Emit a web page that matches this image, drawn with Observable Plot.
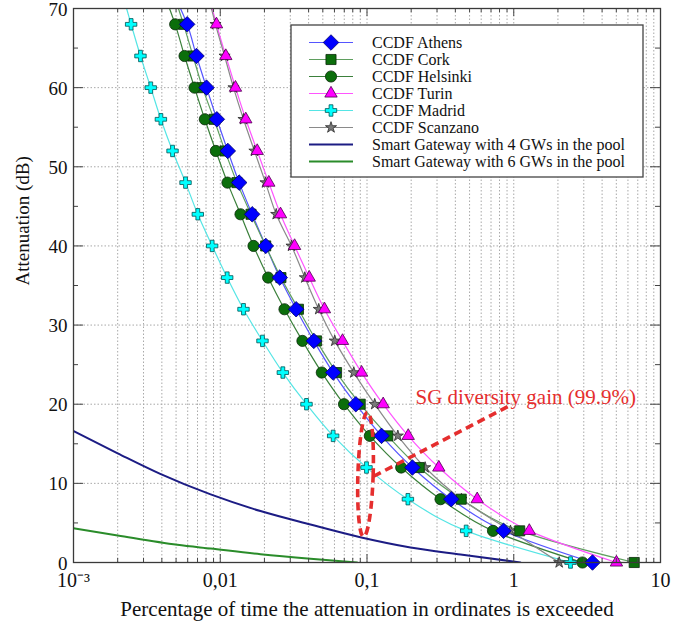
<!DOCTYPE html>
<html><head><meta charset="utf-8">
<script src="https://cdn.jsdelivr.net/npm/d3@7"></script>
<script src="https://cdn.jsdelivr.net/npm/@observablehq/plot@0.6"></script>
<style>body{margin:0;background:#fff} #chart{width:685px;height:622px}</style>
</head><body><div id="chart"></div>
<script>
// ---- data (percentage of time exceeded, per attenuation level in dB) ----
const levels = [0,4,8,12,16,20,24,28,32,36,40,44,48,52,56,60,64,68];
const topLevel = 70;
const athens   = [3.44,0.852,0.375,0.204,0.1256,0.0839,0.0588,0.0434,0.0329,0.02545,0.02044,0.0165,0.01346,0.01126,0.00948,0.00806,0.00689,0.00595];
const cork     = [6.62,1.098,0.4385,0.2268,0.1386,0.0899,0.062,0.0453,0.0341,0.0259,0.0204,0.0162,0.0130,0.01078,0.00907,0.00757,0.00652,0.00562];
const helsinki = [2.94,0.722,0.317,0.171,0.1045,0.0697,0.0492,0.0363,0.0274,0.0212,0.01685,0.01374,0.0112,0.00933,0.00785,0.00668,0.00571,0.00493];
const turin    = [5.01,1.276,0.5635,0.3085,0.1909,0.1289,0.0918,0.0681,0.0513,0.0404,0.0321,0.02574,0.02142,0.01786,0.01493,0.0127,0.01091,0.00943];
const madrid   = [2.436,0.474,0.190,0.0992,0.0588,0.0387,0.0267,0.0194,0.0144,0.01115,0.00881,0.00703,0.0058,0.00473,0.00394,0.00336,0.00286,0.00247];
const scanzano = [2.04,0.95,0.44,0.249,0.1622,0.1129,0.0813,0.0603,0.0469,0.0377,0.0306,0.02406,0.02034,0.0171,0.0144,0.01231,0.0107,0.00928];
// where each curve leaves the top of the frame (70 dB)
const topX = {Athens:0.00536, Cork:0.00519, Helsinki:0.00451, Turin:0.00881, Madrid:0.0023, Scanzano:0.0087};

const sg4X = [0.001,0.002,0.0039,0.0086,0.0188,0.0412,0.09,0.198,0.434,1.11];
const sg4Y = [16.6,13.8,11.2,8.6,6.5,4.8,3.2,1.9,1.0,0];
const sg6X = [0.001,0.002,0.0051,0.0086,0.0188,0.0412,0.0857];
const sg6Y = [4.34,3.42,2.24,1.76,1.05,0.47,0];

const xMajor = [0.001,0.01,0.1,1,10];
const xLabels = ["10\u207B\u00B3","0,01","0,1","1","10"];
const yMajor = [0,10,20,30,40,50,60,70];
const yMinor = [5,15,25,35,45,55,65];
const yGrid = [10,20,30,40,50,60];

// annotation (data coordinates)
const ellipseC = {x:0.0985, y:11.05, halfDecades:0.052, halfDb:7.85};
const arrow = {x1:0.111, y1:10.9, x2:0.98, y2:20.0};
const noteText = "SG diversity gain (99.9%)";
const noteAt = {x:0.214, y:20.9};

// ---- styles ----
const series = [
  {name:"Athens",   label:"CCDF Athens",   v:athens,   line:"#5555ff", fill:"#0000ff", stroke:"#00006a", symbol:"diamond2", r:7.0},
  {name:"Cork",     label:"CCDF Cork",     v:cork,     line:"#5f9f5f", fill:"#0b6e0b", stroke:"#0a2a0a", symbol:"square",   r:5.7},
  {name:"Helsinki", label:"CCDF Helsinki", v:helsinki, line:"#3b803b", fill:"#0b6e0b", stroke:"#0a2a0a", symbol:"circle",   r:5.6},
  {name:"Turin",    label:"CCDF Turin",    v:turin,    line:"#ff55ff", fill:"#ff00ff", stroke:"#4a004a", symbol:"triangle", r:4.6},
  {name:"Madrid",   label:"CCDF Madrid",   v:madrid,   line:"#55e5e5", fill:"#00ffff", stroke:"#005050", symbol:"cross",    r:4.8},
  {name:"Scanzano", label:"CCDF Scanzano", v:scanzano, line:"#8a8a8a", fill:"#7a7a7a", stroke:"#2a2a2a", symbol:"star",     r:3.5}
];
const dotOrder = ["Scanzano","Cork","Helsinki","Athens","Madrid","Turin"];
const sgSeries = [
  {label:"Smart Gateway with 4 GWs in the pool", xs:sg4X, ys:sg4Y, color:"#1c1c84"},
  {label:"Smart Gateway with 6 GWs in the pool", xs:sg6X, ys:sg6Y, color:"#2a8c2a"}
];

const W=685,H=622,mL=73,mR=25,mT=8,mB=60;
const iw=W-mL-mR, ih=H-mT-mB;
const font = "'Liberation Serif','Times New Roman',serif";
const red = "#e52e2e";

const xMinor = [];
[0.001,0.01,0.1,1].forEach(d => { for (let k=2;k<=9;k++) xMinor.push(d*k); });
const xGrid = xMinor.concat([0.01,0.1,1]);

const lineMarks = series.map(s => {
  const pts = s.v.map((x,j)=>({x, y:levels[j]})).concat([{x:topX[s.name], y:topLevel}]);
  return Plot.line(pts, {x:"x", y:"y", stroke:s.line, strokeWidth:1.2, curve:"monotone-y", clip:true});
});
const sgMarks = sgSeries.map(s => Plot.line(s.xs.map((x,i)=>({x,y:s.ys[i]})), {x:"x", y:"y", stroke:s.color, strokeWidth:2, curve:"monotone-x", clip:true}));
const dotMarks = dotOrder.map(n => {
  const s = series.find(d=>d.name===n);
  return Plot.dot(s.v.map((x,j)=>({x,y:levels[j]})), {x:"x", y:"y", symbol:()=>s.symbol, r:s.r, fill:s.fill, stroke:s.stroke, strokeWidth:0.8});
});

const grid = "#a8a8a8";
const chart = Plot.plot({
  width: W, height: H,
  marginLeft: mL, marginRight: mR, marginTop: mT, marginBottom: mB,
  style: {fontFamily: font, fontSize: "20px", color: "#111", background: "#fff"},
  x: {type:"log", domain:[0.001,10], label:null},
  y: {domain:[0,70], label:null},
  marks: [
    Plot.ruleX(xGrid, {stroke:grid, strokeDasharray:"1.5,2", strokeWidth:1}),
    Plot.ruleY(yGrid, {stroke:grid, strokeDasharray:"1.5,2", strokeWidth:1}),
    ...sgMarks,
    ...lineMarks,
    ...dotMarks,
    Plot.link([arrow], {x1:"x1", y1:"y1", x2:"x2", y2:"y2", stroke:red, strokeWidth:3.6, strokeDasharray:"8,5"}),
    Plot.text([noteAt], {x:"x", y:"y", text:()=>noteText, textAnchor:"start", fill:red, fontSize:21, fontFamily:font}),
    // inward ticks
    Plot.ruleX(xMajor.slice(1,-1), {stroke:"#444", insetTop: ih-8}),
    Plot.ruleX(xMajor.slice(1,-1), {stroke:"#444", insetBottom: ih-8}),
    Plot.ruleX(xMinor, {stroke:"#444", insetTop: ih-4}),
    Plot.ruleX(xMinor, {stroke:"#444", insetBottom: ih-4}),
    Plot.ruleY(yMajor.slice(1,-1), {stroke:"#444", insetRight: iw-10}),
    Plot.ruleY(yMajor.slice(1,-1), {stroke:"#444", insetLeft: iw-10}),
    Plot.ruleY(yMinor, {stroke:"#444", insetRight: iw-5}),
    Plot.ruleY(yMinor, {stroke:"#444", insetLeft: iw-5}),
    Plot.frame({stroke:"#3a3a3a", strokeWidth:1.3}),
    Plot.axisX({ticks:xMajor, tickFormat: d => xLabels[xMajor.indexOf(d)], tickSize:0, tickPadding:10, label:null, fontSize:20}),
    Plot.axisY({ticks:yMajor, tickSize:0, tickPadding:6, label:null, fontSize:19, dy:1}),
    Plot.text(["Percentage of time the attenuation in ordinates is exceeded"], {frameAnchor:"bottom", dy:47, lineAnchor:"middle", fontSize:21, fill:"#111"}),
    Plot.text(["Attenuation (dB)"], {frameAnchor:"left", dx:-51, rotate:-90, lineAnchor:"middle", fontSize:19, fill:"#111"})
  ]
});
document.getElementById("chart").appendChild(chart);

// ---- ellipse annotation through the plot's scales ----
const sx = chart.scale("x"), sy = chart.scale("y");
const cx = sx.apply(ellipseC.x), cy = sy.apply(ellipseC.y);
const rx = sx.apply(ellipseC.x*Math.pow(10,ellipseC.halfDecades)) - cx;
const ry = sy.apply(ellipseC.y - ellipseC.halfDb) - cy;
d3.select(chart).append("ellipse")
  .attr("cx",cx).attr("cy",cy).attr("rx",rx).attr("ry",ry)
  .attr("transform",`rotate(1.8 ${cx} ${cy})`)
  .attr("fill","none").attr("stroke",red).attr("stroke-width",3.6).attr("stroke-dasharray","8,5");

// ---- legend inside the frame ----
const lg = d3.select(chart).append("g").attr("font-family",font).attr("font-size",16).attr("text-anchor","start");
const lx = 291, ly = 25, lw = 352, rowH = 17;
const entries = series.map(s=>({label:s.label, line:s.line, sym:s.symbol, r:s.r, fill:s.fill, stroke:s.stroke, w:1.2}))
  .concat(sgSeries.map(s=>({label:s.label, line:s.color, w:2.2})));
lg.append("rect").attr("x",lx).attr("y",ly).attr("width",lw).attr("height",entries.length*rowH+16)
  .attr("fill","#fff").attr("stroke","#444").attr("stroke-width",1.3);
const symMap = {diamond2:d3.symbolDiamond2, square:d3.symbolSquare, circle:d3.symbolCircle, triangle:d3.symbolTriangle, cross:d3.symbolCross, star:d3.symbolStar};
entries.forEach((e,i)=>{
  const y = ly + 17.5 + i*rowH;
  lg.append("line").attr("x1",lx+18).attr("x2",lx+62).attr("y1",y).attr("y2",y).attr("stroke",e.line).attr("stroke-width",e.w);
  if (e.sym) lg.append("path").attr("d",d3.symbol(symMap[e.sym], Math.PI*e.r*e.r)()).attr("transform",`translate(${lx+40},${y})`)
      .attr("fill",e.fill).attr("stroke",e.stroke).attr("stroke-width",0.8);
  lg.append("text").attr("x",lx+81).attr("y",y).attr("dy","0.35em").attr("text-anchor","start").attr("fill","#111").text(e.label);
});
</script></body></html>
